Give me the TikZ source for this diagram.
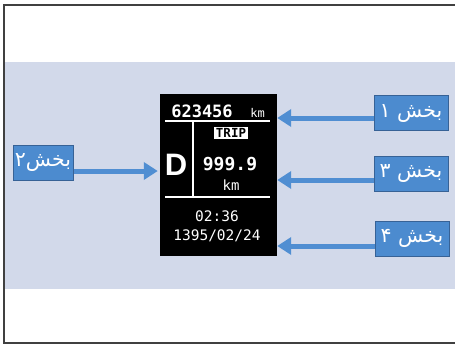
\documentclass[tikz,border=0pt]{standalone}
\usepackage{fontspec}
\setmonofont{DejaVu Sans Mono}
\newfontfamily\farsi[Script=Arabic]{DejaVu Sans}
\newfontfamily\dispsans{Liberation Sans}
\TeXXeTstate=1
\usetikzlibrary{arrows.meta}
\definecolor{bandblue}{RGB}{210,217,234}
\definecolor{tagblue}{RGB}{76,139,207}
\definecolor{tagedge}{RGB}{55,98,150}
\definecolor{arrowblue}{RGB}{80,142,210}
\begin{document}
\begin{tikzpicture}[x=1pt, y=-1pt, every node/.style={inner sep=0pt},
  tag/.style={draw=tagedge, line width=1pt, fill=tagblue, text=white, minimum height=35pt, font=\farsi\fontsize{20.5}{20.5}\selectfont},
  lcd/.style={text=white, anchor=base, font=\ttfamily\fontsize{14.5}{14.5}\selectfont},
  arr/.style={arrowblue, line width=5pt, -{Triangle[length=14pt, width=17pt]}}]
\useasboundingbox (0,0) rectangle (455,345);
\fill[bandblue] (5,62) rectangle (455,289);
\draw[line width=2.5pt, black!75] (455,5) -- (4,5) -- (4,343) -- (455,343);
% display
\node[fill=black, minimum width=117pt, minimum height=162pt] (disp) at (218.5,175) {};
\draw[white, line width=1.5pt] (165,121) -- (270,121) (193,121) -- (193,197) (165,197) -- (270,197);
\node[lcd, font=\ttfamily\bfseries\fontsize{17}{17}\selectfont] (odo) at (202,117) {623456};
\node[lcd, font=\ttfamily\fontsize{12}{12}\selectfont] (odokm) at (257.5,117) {km};
\node[lcd, font=\dispsans\bfseries\fontsize{31}{31}\selectfont] (gear) at (176,175) {D};
\node[fill=white, text=black, inner xsep=2pt, inner ysep=1pt, font=\ttfamily\bfseries\fontsize{12.5}{12.5}\selectfont] (trip) at (231,133) {TRIP};
\node[lcd, font=\ttfamily\bfseries\fontsize{18}{18}\selectfont] (tripval) at (230,170) {999.9};
\node[lcd, font=\ttfamily\fontsize{14}{14}\selectfont] (tripkm) at (231,190) {km};
\node[lcd] (clock) at (217,221) {02:36};
\node[lcd] (date) at (217,240) {1395/02/24};
% labels
\node[tag, minimum width=74pt] (b1) at (411,113) {\beginR بخش ۱\endR};
\node[tag, minimum width=60pt] (b2) at (43,162.5) {\beginR بخش۲\endR};
\node[tag, minimum width=74pt] (b3) at (411,173.5) {\beginR بخش ۳\endR};
\node[tag, minimum width=74pt] (b4) at (412,238.5) {\beginR بخش ۴\endR};
\draw[arr] ([yshift=-5pt]b1.west) -- ([yshift=-5pt]b1.west -| disp.east);
\draw[arr, shorten >=2pt] ([yshift=-8.5pt]b2.east) -- ([yshift=-8.5pt]b2.east -| disp.west);
\draw[arr] ([yshift=-6.5pt]b3.west) -- ([yshift=-6.5pt]b3.west -| disp.east);
\draw[arr] ([yshift=-7.5pt]b4.west) -- ([yshift=-7.5pt]b4.west -| disp.east);
\end{tikzpicture}
\end{document}
